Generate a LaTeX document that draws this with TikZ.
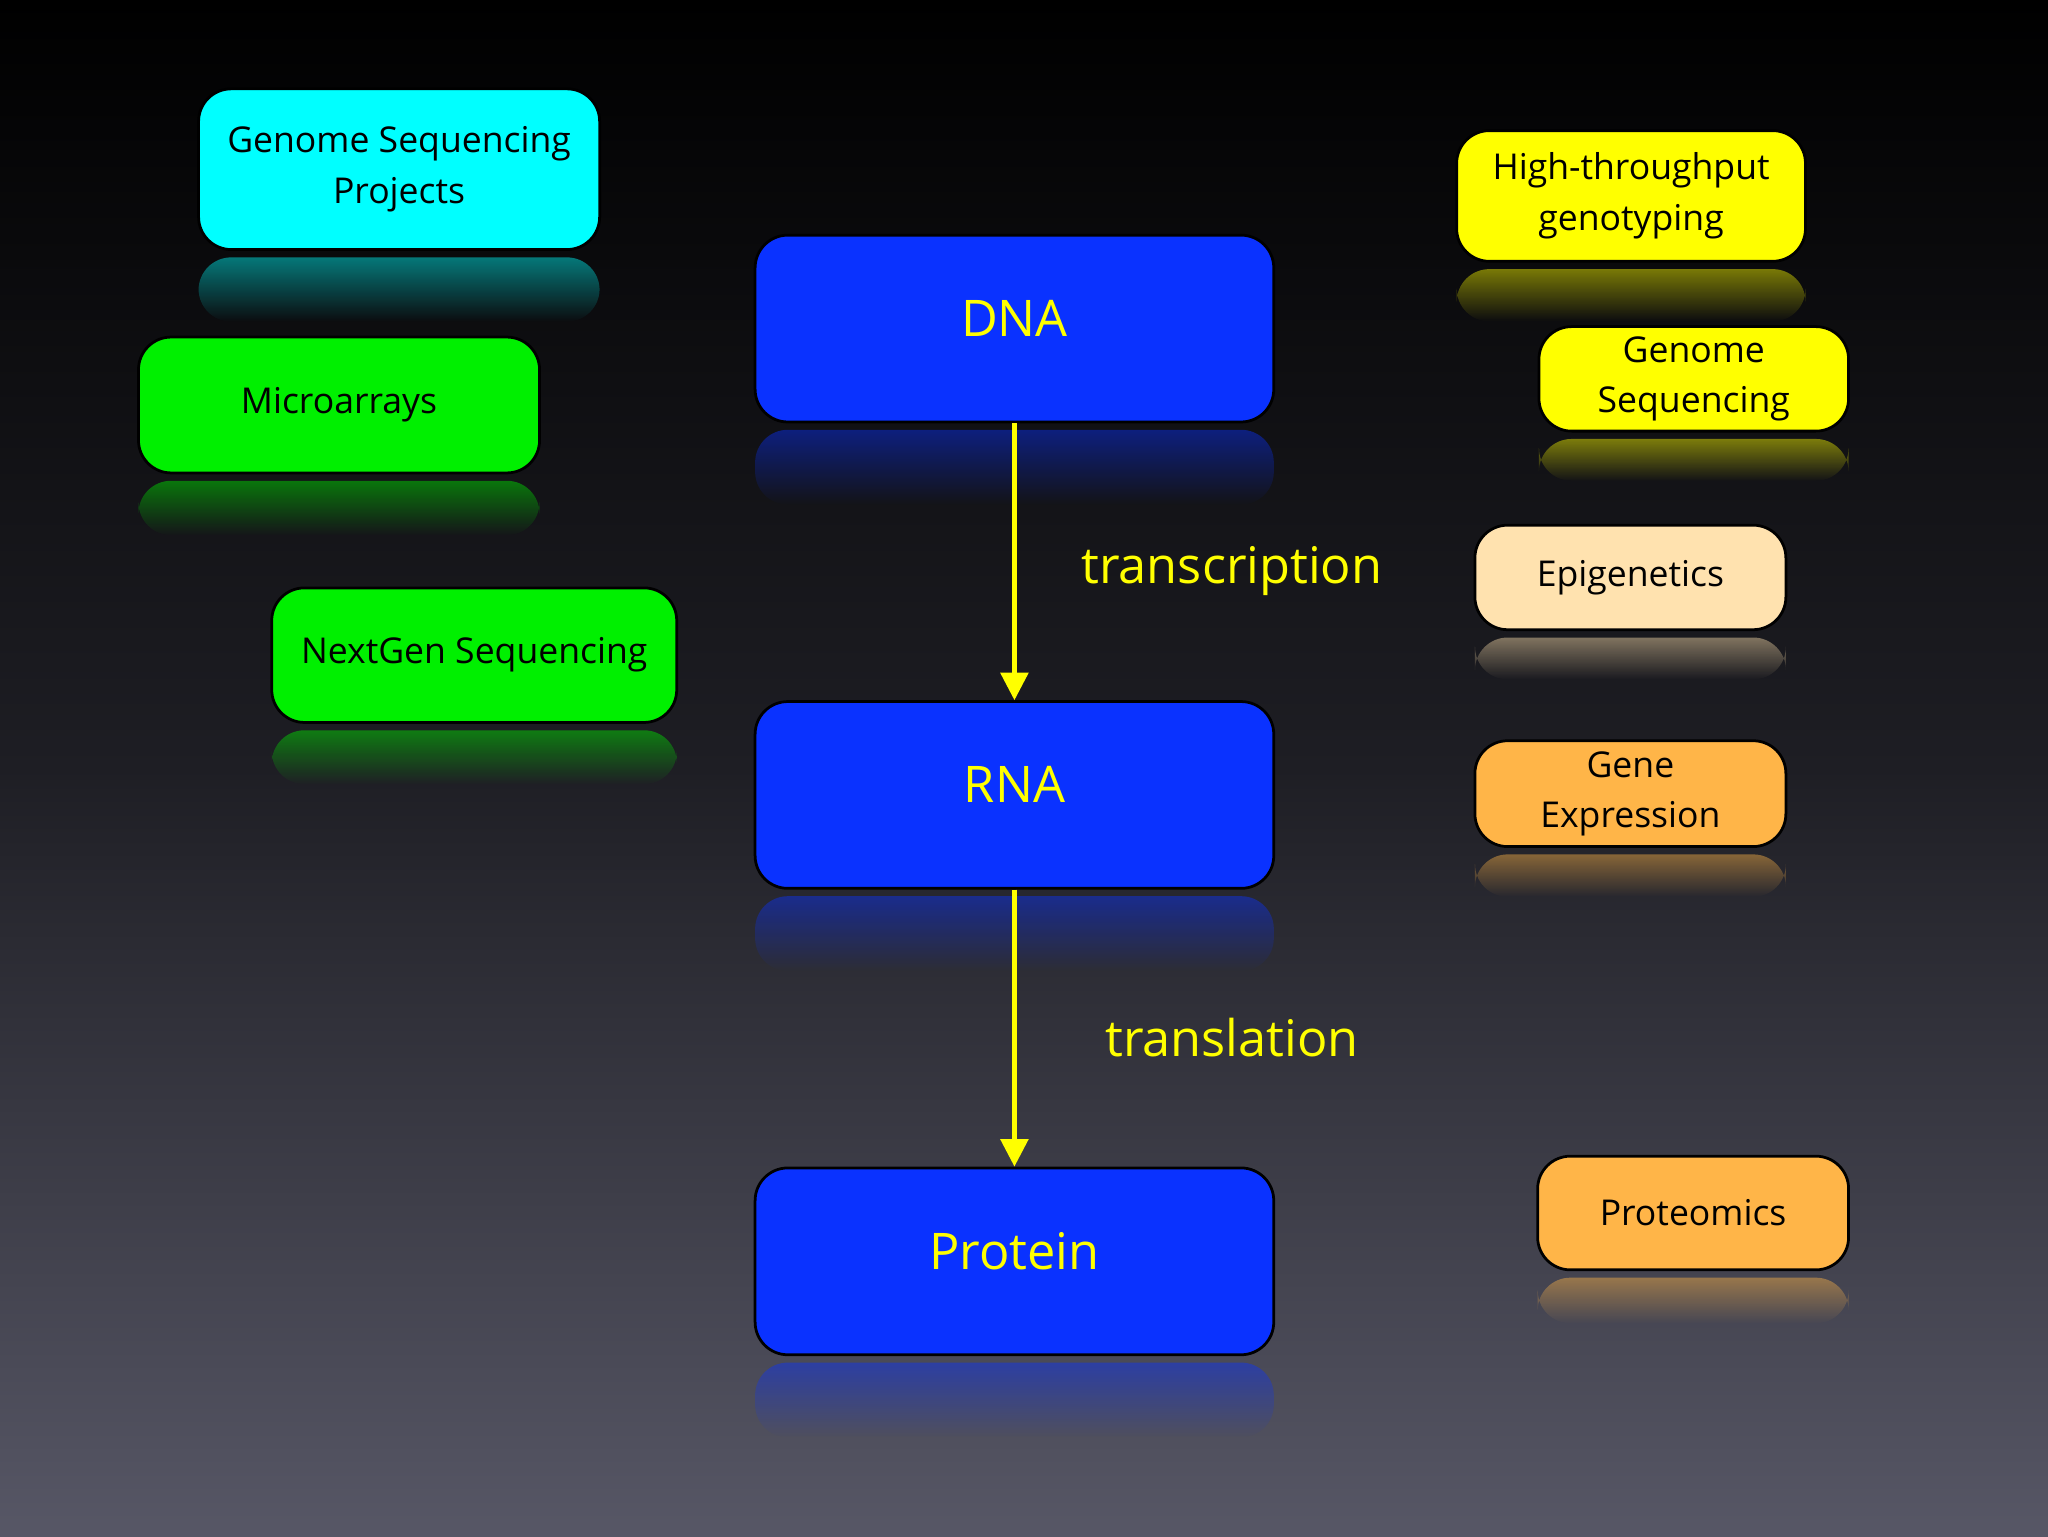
\documentclass[tikz,border=0pt]{standalone}
\usepackage{fontspec}
\setmainfont{Open Sans}
\usetikzlibrary{fadings,arrows.meta}
\definecolor{bgb}{RGB}{87,87,102}
\definecolor{dnab}{RGB}{10,50,255}
\definecolor{cy}{RGB}{0,255,255}
\definecolor{gr}{RGB}{0,240,0}
\definecolor{ye}{RGB}{255,255,0}
\definecolor{wh}{RGB}{255,226,175}
\definecolor{ora}{RGB}{255,181,72}
\tikzset{
  box/.style={draw=black, line width=1.2pt, rounded corners=0.5cm, inner sep=2pt, align=center, font=\fontsize{15.5}{22}\selectfont},
  big/.style={box, font=\fontsize{22}{26}\selectfont, text=ye, fill=dnab},
  arr/.style={draw=ye, line width=1.8pt, -{Triangle[length=12pt,width=12pt]}},
  lbl/.style={text=ye, font=\fontsize{22}{26}\selectfont}
}
\newcommand{\up}[1]{\raisebox{9pt}{#1}}
% #1 name, #2 x1, #3 y1, #4 x2, #5 y2, #6 style, #7 text
\newcommand{\mybox}[7]{%
  \fill[#6, draw=none, rounded corners=0.5cm, path fading=south, opacity=0.45]
    (#2*0.02,{-(#5+6)*0.02}) rectangle (#4*0.02,{-(#5+6+(#5-#3)*0.4)*0.02});
  \node[#6, minimum width={(#4-#2)*0.02cm}, minimum height={(#5-#3)*0.02cm}]
    (#1) at ({(#2+#4)/2*0.02},{-(#3+#5)/2*0.02}) {#7};}
\begin{document}
\begin{tikzpicture}
\shade[top color=black, bottom color=bgb, middle color={rgb,255:red,30;green,30;blue,36}] (0,0) rectangle (31.36,-23.52);
\useasboundingbox (0,0) rectangle (31.36,-23.52);
\mybox{gsp}{152}{68}{459}{191}{box,fill=cy}{Genome Sequencing\\Projects}
\mybox{micro}{106}{258}{413}{362}{box,fill=gr}{Microarrays}
\mybox{ngs}{208}{450}{518}{553}{box,fill=gr}{NextGen Sequencing}
\mybox{dna}{578}{180}{975}{323}{big}{\up{DNA}}
\mybox{rna}{578}{537}{975}{680}{big}{\up{RNA}}
\mybox{prot}{578}{894}{975}{1037}{big}{\up{Protein}}
\mybox{htg}{1115}{100}{1382}{200}{box,fill=ye}{High-throughput\\genotyping}
\mybox{gs}{1178}{250}{1415}{330}{box,fill=ye}{Genome\\Sequencing}
\mybox{epi}{1129}{402}{1367}{482}{box,fill=wh}{Epigenetics}
\mybox{ge}{1129}{567}{1367}{648}{box,fill=ora}{Gene\\Expression}
\mybox{pro}{1177}{885}{1415}{972}{box,fill=ora}{Proteomics}
\draw[arr] (dna.south) -- (rna.north);
\draw[arr] (rna.south) -- (prot.north);
\node[lbl] (tc) at (943*0.02,-437*0.02) {transcription};
\node[lbl] (tl) at (943*0.02,-794*0.02) {translation};
\end{tikzpicture}
\end{document}
